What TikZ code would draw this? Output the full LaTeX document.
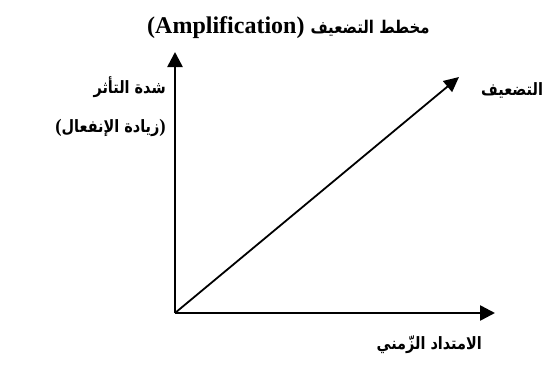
\documentclass[tikz,border=0pt]{standalone}
\usepackage{fontspec}
\setmainfont{Liberation Serif}
\newfontfamily\arabicfont[Script=Arabic,FakeStretch=0.85]{DejaVu Sans}
\TeXXeTstate=1
\usetikzlibrary{arrows.meta}

\begin{document}
\begin{tikzpicture}[x=1pt,y=-1pt,
    axis/.style={line width=2.6pt,-{Triangle[length=15pt,width=15pt]}},
    growth/.style={line width=1.8pt,-{Triangle[length=15pt,width=14pt]}},
    arlbl/.style={inner sep=0pt,font=\arabicfont\bfseries\fontsize{17}{19}\selectfont}]
  \useasboundingbox (0,0) rectangle (555,365);
  % axes
  \coordinate (O) at (175,313);
  \coordinate (Ytop) at (175,52);
  \coordinate (Xend) at (495,313);
  \coordinate (Dend) at (459,77);
  \draw[axis] (O) -- (Ytop);
  \draw[axis] (O) -- (Xend);
  \draw[growth] (O) -- (Dend);
  % title
  \node[anchor=base west,inner sep=0pt,font=\bfseries\fontsize{24}{28}\selectfont] (title) at (147,33)
    {(Amplification) {\arabicfont\fontsize{17.5}{20}\selectfont\beginR مخطط التضعيف\endR}};
  % labels
  \node[arlbl,anchor=east] (yl1) at (166,87) {\beginR شدة التأثر\endR};
  \node[arlbl,anchor=east] (yl2) at (166,128)
    {{\rmfamily\fontsize{19}{20}\selectfont(}\beginR زيادة الإنفعال\endR{\rmfamily\fontsize{19}{20}\selectfont)}};
  \node[arlbl,anchor=west] (dl) at (481,90) {\beginR التضعيف\endR};
  \node[arlbl,anchor=east] (xl) at (482,345) {\beginR الامتداد الزّمني\endR};
\end{tikzpicture}
\end{document}
